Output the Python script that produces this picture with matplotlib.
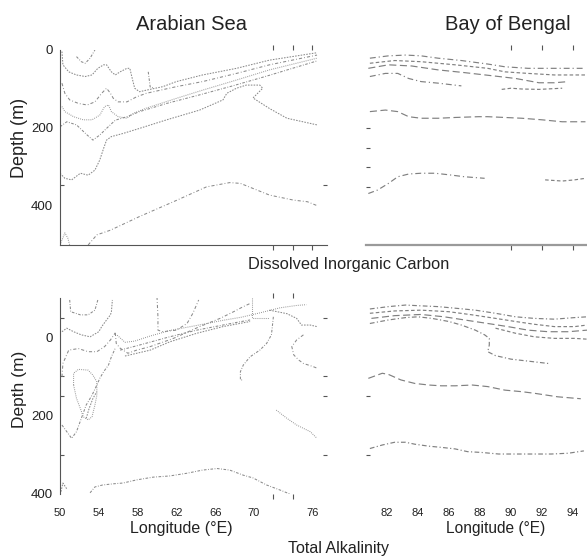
import numpy as np
import matplotlib
matplotlib.use('Agg')
import matplotlib.pyplot as plt

plt.rcParams['font.family'] = ['Liberation Sans', 'DejaVu Sans']

# Contour traces, each a list of (longitude, depth) points
dic_arabian = [
    [(51.7, 17), (52.2, 30), (52.6, 34), (53.1, 21), (53.6, 0)],
    [(50.2, 4), (50.3, 38), (50.9, 56), (51.7, 64), (52.6, 68), (53.3, 64), (53.9, 47),
     (54.5, 38), (54.8, 38), (55.3, 56), (55.7, 64), (56.2, 56), (56.9, 47), (57.2, 47),
     (57.4, 68), (57.7, 98), (58.2, 107), (58.9, 103), (60.6, 94), (62.0, 81), (64.7, 64),
     (68.2, 47), (71.6, 26), (76.5, 7)],
    [(50.2, 85), (50.5, 111), (51.0, 128), (51.9, 137), (52.8, 141), (53.6, 133), (54.3, 111),
     (54.8, 98), (55.2, 111), (55.5, 124), (56.0, 133), (56.9, 133), (57.9, 120), (58.9, 111),
     (62.0, 94), (64.7, 81), (68.2, 60), (71.6, 38), (76.5, 13)],
    [(50.2, 145), (50.5, 158), (51.4, 171), (52.4, 179), (53.3, 179), (54.1, 167), (54.6, 145),
     (55.0, 141), (55.3, 158), (56.0, 171), (56.9, 175), (57.6, 162), (58.9, 149), (62.0, 124),
     (64.7, 103), (68.2, 77), (71.6, 51), (76.5, 21)],
    [(50.0, 197), (50.7, 184), (51.7, 192), (52.8, 218), (53.4, 231), (54.1, 218), (54.8, 201),
     (55.7, 180), (56.9, 171), (58.2, 158), (61.0, 137), (64.4, 115), (67.8, 92), (71.3, 67),
     (76.5, 28)],
    [(50.0, 316), (50.5, 329), (51.2, 333), (52.1, 316), (52.9, 321), (53.6, 308), (54.1, 282),
     (54.5, 252), (54.8, 231), (55.3, 222), (56.5, 214), (58.2, 201), (61.0, 179), (64.4, 154),
     (66.8, 128), (67.2, 111), (68.2, 98), (69.2, 90), (70.6, 90), (70.9, 98), (69.9, 123),
     (71.6, 150), (73.4, 175), (76.5, 192)],
    [(52.9, 500), (53.8, 474), (55.2, 462), (58.2, 427), (61.7, 389), (65.1, 351), (67.5, 340),
     (68.6, 342), (69.9, 355), (71.6, 372), (74.1, 385), (75.5, 389), (76.6, 400)],
    [(50.0, 500), (50.5, 469), (50.8, 482), (51.0, 500)],
    [(59.1, 56), (59.3, 95), (59.6, 97)],
]

dic_bengal = [
    [(80.9, 21), (82.1, 15), (83.2, 13), (84.2, 15), (85.3, 21), (86.8, 27), (88.5, 36),
     (89.6, 43), (91.1, 47), (92.4, 47), (93.7, 47), (94.8, 47)],
    [(80.9, 34), (82.5, 27), (84.2, 30), (86.4, 38), (88.5, 47), (89.6, 56), (91.1, 60),
     (92.8, 64), (94.8, 64)],
    [(80.8, 47), (82.1, 38), (83.6, 41), (85.3, 51), (87.0, 58), (89.0, 67), (90.3, 73),
     (91.8, 84), (92.8, 84), (93.7, 81)],
    [(80.9, 68), (81.9, 60), (82.7, 60), (83.4, 73), (84.2, 81), (85.3, 85), (86.8, 92)],
    [(89.4, 101), (90.0, 98), (90.7, 100), (91.8, 101), (93.3, 98)],
    [(80.9, 158), (81.9, 154), (82.7, 158), (83.4, 171), (84.2, 175), (85.3, 175), (86.4, 173),
     (87.9, 171), (88.5, 171), (89.6, 173), (90.7, 175), (92.0, 179), (93.3, 184), (94.8, 184)],
    [(80.8, 368), (81.4, 359), (82.1, 342), (82.7, 325), (83.4, 318), (84.2, 316), (85.1, 316),
     (86.0, 320), (87.0, 325), (88.3, 329)],
    [(92.2, 333), (93.3, 336), (94.1, 333), (94.8, 329)],
]

ta_arabian = [
    [(51.0, -95), (51.1, -65), (52.1, -57), (52.9, -57), (53.6, -69), (53.9, -95)],
    [(50.2, -14), (50.7, -23), (51.4, -14), (52.2, -6), (53.1, -1), (54.0, -14), (54.3, -27),
     (54.8, -44), (55.2, -57), (55.3, -65), (55.4, -95)],
    [(50.2, 101), (50.3, 67), (50.9, 33), (51.9, 29), (52.9, 37), (53.8, 37), (54.6, 24),
     (55.2, 7), (55.7, -11)],
    [(51.4, 122), (51.4, 92), (51.9, 82), (52.9, 84), (53.4, 97), (53.8, 114), (53.8, 148),
     (53.6, 173), (53.3, 203), (52.9, 211), (52.4, 203), (52.1, 182), (51.7, 156), (51.4, 122)],
    [(50.2, 224), (50.7, 241), (51.2, 258), (51.7, 241), (52.2, 207), (52.7, 173), (53.3, 148),
     (53.8, 122), (54.1, 105), (54.5, 88), (55.0, 71), (55.3, 50), (55.7, 28)],
    [(52.7, 207), (53.0, 182), (53.4, 156), (53.8, 139)],
    [(60.0, -103), (60.1, -52), (60.1, -18), (60.6, -14), (62.0, -18), (63.1, -35), (63.7, -61),
     (64.3, -95)],
    [(55.9, -5), (56.7, 13), (57.7, 10), (59.3, -3), (61.3, -17), (64.1, -30), (66.8, -43),
     (68.7, -51), (70.6, -62), (72.7, -75), (74.4, -81), (75.4, -83)],
    [(56.2, 33), (58.2, 20), (61.3, -1), (64.1, -18), (66.8, -31), (68.7, -40), (69.6, -44)],
    [(56.7, 48), (59.3, 33), (61.3, 12), (64.1, -10), (66.8, -27), (69.6, -40)],
    [(55.7, -11), (55.8, 16), (56.2, 28), (57.0, 41), (57.9, 33), (59.3, 24), (61.7, 3),
     (64.4, -27), (66.5, -48), (67.9, -65), (68.9, -78), (69.6, -86)],
    [(69.8, -99), (69.8, -48), (71.6, -48)],
    [(72.0, -52), (71.8, -6), (71.3, 16), (70.6, 33), (69.6, 50), (68.9, 71), (68.6, 88),
     (68.6, 109), (68.9, 109)],
    [(71.6, -69), (73.4, -60), (74.4, -48), (74.9, -31), (75.8, -31), (76.5, -27)],
    [(75.1, -6), (74.4, 7), (73.9, 24), (74.1, 45), (74.6, 58), (75.1, 67), (76.1, 75), (76.6, 80)],
    [(72.3, 186), (73.4, 207), (74.4, 224), (75.8, 241), (76.5, 258)],
    [(53.1, 397), (53.6, 382), (54.4, 377), (55.5, 374), (56.5, 372), (57.9, 364), (59.6, 357),
     (61.3, 354), (63.1, 347), (64.7, 339), (66.2, 335), (67.5, 339), (68.9, 352), (69.9, 359),
     (71.3, 377), (72.7, 390), (73.7, 400)],
    [(50.1, 394), (50.3, 372), (50.7, 387)],
]

ta_bengal = [
    [(80.9, -72), (82.1, -78), (83.2, -82), (84.2, -80), (85.3, -78), (86.4, -74), (87.7, -69),
     (89.0, -61), (90.3, -52), (91.5, -48), (92.8, -46), (94.1, -50), (94.9, -52)],
    [(80.9, -61), (82.5, -67), (84.2, -69), (86.0, -65), (87.5, -57), (89.0, -48), (90.3, -40),
     (91.5, -33), (92.8, -27), (94.1, -27), (94.9, -31)],
    [(81.0, -48), (82.5, -55), (84.2, -58), (85.7, -52), (87.0, -44), (88.5, -35), (89.8, -27),
     (91.1, -18), (92.4, -14), (93.7, -14), (94.9, -18)],
    [(80.9, -35), (82.1, -44), (83.2, -50), (84.0, -52), (84.9, -48), (86.0, -40), (86.8, -31),
     (87.7, -18), (88.3, -6), (88.6, 3), (88.6, 20), (88.5, 37), (89.0, 47), (90.0, 56),
     (91.1, 61), (92.4, 67)],
    [(89.0, -23), (90.3, -10), (91.5, -1), (92.8, 3), (94.1, 3), (94.9, 5)],
    [(80.8, 105), (81.7, 92), (82.1, 95), (82.9, 109), (83.8, 118), (84.7, 122), (85.5, 124),
     (86.4, 124), (87.5, 122), (88.5, 126), (89.6, 135), (90.7, 139), (91.5, 143), (93.0, 152),
     (94.5, 157)],
    [(80.9, 284), (81.7, 275), (82.5, 268), (83.2, 268), (83.8, 273), (84.7, 278), (85.5, 281),
     (86.4, 285), (87.2, 292), (88.1, 294), (89.2, 298), (90.8, 298), (92.6, 298), (93.7, 296),
     (94.7, 290)],
]

# Tick positions
as_labels = [50, 54, 58, 62, 66, 70, 76]
bob_labels = [82, 84, 86, 88, 90, 92, 94]

W, H = 587, 558
fig = plt.figure(figsize=(W / 100, H / 100), dpi=100)


def box(x0, y0, x1, y1):
    return [x0 / W, 1 - y1 / H, (x1 - x0) / W, (y1 - y0) / H]


ax_tl = fig.add_axes(box(60, 50, 327, 245))
ax_tr = fig.add_axes(box(366, 50, 587, 245))
ax_bl = fig.add_axes(box(60, 298, 327, 494))
ax_br = fig.add_axes(box(366, 298, 587, 494))

styles = [(0, (2.5, 1.5, 0.8, 1.5)), (0, (1.5, 1.2)), (0, (3, 2, 0.8, 2)), (0, (0.8, 1.2))]


def draw(ax, lines, color, lw, extra=None):
    for i, ln in enumerate(lines):
        pts = np.array(ln)
        ax.plot(pts[:, 0], pts[:, 1], color=color, lw=lw,
                ls=styles[i % len(styles)] if extra is None else extra[i % len(extra)])


draw(ax_tl, dic_arabian, '#8a8a8a', 0.75)
draw(ax_tr, dic_bengal, '#808080', 0.85, [(0, (5, 2.5, 1, 2.5)), (0, (3, 2)), (0, (6, 3))])
draw(ax_bl, ta_arabian, '#8a8a8a', 0.75)
draw(ax_br, ta_bengal, '#808080', 0.85, [(0, (4, 2, 1, 2)), (0, (3, 2)), (0, (6, 3))])

for ax in (ax_tl, ax_tr):
    ax.set_ylim(500, 0)
for ax in (ax_bl, ax_br):
    ax.set_ylim(400, -100)
for ax in (ax_tl, ax_bl):
    ax.set_xlim(50, 77.53)
for ax in (ax_tr, ax_br):
    ax.set_xlim(80.65, 94.9)

tick_col = '#555555'
for ax in (ax_tl, ax_tr, ax_bl, ax_br):
    for s in ax.spines.values():
        s.set_visible(False)
    ax.patch.set_alpha(0)
    ax.tick_params(which='major', length=0, colors='#222222')
    ax.tick_params(which='minor', color=tick_col, width=0.8)

# Top-left: Arabian Sea, DIC
ax_tl.spines['left'].set_visible(True)
ax_tl.spines['bottom'].set_visible(True)
ax_tl.spines['left'].set_color('#555555')
ax_tl.spines['bottom'].set_color('#555555')
ax_tl.set_yticks([0, 200, 400])
ax_tl.set_yticklabels(['0', '200', '400'], fontsize=9.5)
ax_tl.tick_params(axis='y', which='major', pad=5)
ax_tl.set_yticks([345], minor=True)
ax_tl.set_xticks([])
ax_tl.set_xticks([72, 74, 76], minor=True)
ax_tl.tick_params(axis='x', which='minor', top=True, bottom=True, direction='out', length=3.5)
ax_tl.tick_params(axis='y', which='minor', left=True, right=True, direction='in', length=3)

# Top-right: Bay of Bengal, DIC
ax_tr.spines['bottom'].set_visible(True)
ax_tr.spines['bottom'].set_color('#9a9a9a')
ax_tr.spines['bottom'].set_linewidth(1.6)
ax_tr.set_yticks([])
ax_tr.set_yticks([200, 250, 300, 350], minor=True)
ax_tr.set_xticks([])
ax_tr.set_xticks([90, 92, 94], minor=True)
ax_tr.tick_params(axis='x', which='minor', top=True, bottom=True, direction='out', length=3.5)
ax_tr.tick_params(axis='y', which='minor', left=True, direction='in', length=3)

# Bottom-left: Arabian Sea, TA
ax_bl.spines['left'].set_visible(True)
ax_bl.spines['left'].set_color('#555555')
ax_bl.set_yticks([0, 200, 400])
ax_bl.set_yticklabels(['0', '200', '400'], fontsize=9.5)
ax_bl.tick_params(axis='y', which='major', pad=5)
ax_bl.set_yticks([-50, 0, 100, 150, 300], minor=True)
ax_bl.set_xticks(as_labels)
ax_bl.set_xticklabels([str(v) for v in as_labels], fontsize=8)
ax_bl.tick_params(axis='x', which='major', pad=10)
ax_bl.set_xticks([72, 74, 76], minor=True)
ax_bl.tick_params(axis='x', which='minor', top=True, bottom=True, direction='out', length=3.5)
ax_bl.tick_params(axis='y', which='minor', left=True, right=True, direction='in', length=3)

# Bottom-right: Bay of Bengal, TA
ax_br.set_yticks([])
ax_br.set_yticks([150, 300], minor=True)
ax_br.set_xticks(bob_labels)
ax_br.set_xticklabels([str(v) for v in bob_labels], fontsize=8)
ax_br.tick_params(axis='x', which='major', pad=10)
ax_br.set_xticks([86, 88, 94], minor=True)
ax_br.tick_params(axis='x', which='minor', top=True, bottom=True, direction='out', length=3.5)
ax_br.tick_params(axis='y', which='minor', left=True, direction='in', length=3)

txt = '#222222'
fig.text(192 / W, 1 - 25 / H, 'Arabian Sea', ha='center', va='center', fontsize=14.5, color=txt)
fig.text(508 / W, 1 - 25 / H, 'Bay of Bengal', ha='center', va='center', fontsize=14.5, color=txt)
fig.text(349 / W, 1 - 264 / H, 'Dissolved Inorganic Carbon', ha='center', va='center',
         fontsize=11.8, color=txt)
fig.text(338 / W, 1 - 549 / H, 'Total Alkalinity', ha='center', va='center', fontsize=11.5, color=txt)
fig.text(19 / W, 1 - 138 / H, 'Depth (m)', ha='center', va='center', rotation=90,
         fontsize=13, color=txt)
fig.text(20 / W, 1 - 389 / H, 'Depth (m)', ha='center', va='center', rotation=90,
         fontsize=12.5, color=txt)
fig.text(181 / W, 1 - 528 / H, 'Longitude (°E)', ha='center', va='center', fontsize=11.5, color=txt)
fig.text(496 / W, 1 - 528 / H, 'Longitude (°E)', ha='center', va='center', fontsize=11.2, color=txt)

fig.savefig('out.png', dpi=100, facecolor='white')
